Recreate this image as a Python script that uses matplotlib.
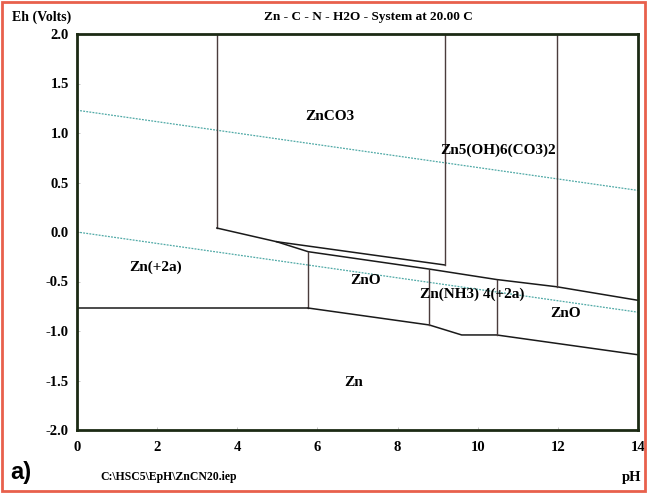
import matplotlib.pyplot as plt
from matplotlib.patches import Rectangle

# stability field boundaries (pH, Eh in volts)
water_upper_ph = [0, 14]
water_upper_eh = [1.23, 0.42]
water_lower_ph = [0, 14]
water_lower_eh = [0.0, -0.81]

znco3_left_ph = [3.49, 3.49, 4.98, 9.18]
znco3_left_eh = [2.0, 0.04, -0.098, -0.333]
wedge_ph = [4.98, 5.77, 8.8, 10.47, 11.97, 14]
wedge_eh = [-0.098, -0.199, -0.375, -0.48, -0.553, -0.69]
v92_ph = [9.18, 9.18]
v92_eh = [2.0, -0.333]
v12_ph = [11.97, 11.97]
v12_eh = [2.0, -0.553]

zn2_ph = [0, 5.77]
zn2_eh = [-0.768, -0.768]
zno_left_ph = [5.77, 5.77]
zno_left_eh = [-0.199, -0.768]
zn_top_ph = [5.77, 8.79, 9.6, 10.47, 14]
zn_top_eh = [-0.768, -0.939, -1.04, -1.04, -1.24]
v88_ph = [8.79, 8.79]
v88_eh = [-0.38, -0.939]
v105_ph = [10.47, 10.47]
v105_eh = [-0.48, -1.04]

species = ['ZnCO3', 'Zn5(OH)6(CO3)2', 'Zn(+2a)', 'ZnO', 'Zn(NH3) 4(+2a)', 'ZnO', 'Zn']
species_ph = [6.3, 10.5, 1.95, 7.2, 9.85, 12.2, 6.9]
species_eh = [1.17, 0.83, -0.36, -0.49, -0.63, -0.82, -1.52]

x_ticks = [0, 2, 4, 6, 8, 10, 12, 14]
y_ticks = [2.0, 1.5, 1.0, 0.5, 0.0, -0.5, -1.0, -1.5, -2.0]

serif = 'Liberation Serif'

fig = plt.figure(figsize=(6.48, 4.95), dpi=100)
ax = fig.add_axes([77 / 648, 65 / 495, 561 / 648, 396 / 495])

water_style = dict(color='#4fa9a6', lw=0.9, ls=(0, (1.5, 1)))
ax.plot(water_upper_ph, water_upper_eh, **water_style)
ax.plot(water_lower_ph, water_lower_eh, **water_style)

line_style = dict(color='#1a1a1a', lw=1.1)
vert_style = dict(color='#4a3c3c', lw=1.0)
ax.plot(znco3_left_ph[:2], znco3_left_eh[:2], **vert_style)
ax.plot(znco3_left_ph[1:], znco3_left_eh[1:], **line_style)
ax.plot(wedge_ph, wedge_eh, **line_style)
ax.plot(v92_ph, v92_eh, **vert_style)
ax.plot(v12_ph, v12_eh, **vert_style)
ax.plot(zn2_ph, zn2_eh, **line_style)
ax.plot(zno_left_ph, zno_left_eh, **vert_style)
ax.plot(zn_top_ph, zn_top_eh, **line_style)
ax.plot(v88_ph, v88_eh, **vert_style)
ax.plot(v105_ph, v105_eh, **vert_style)

for name, ph, eh in zip(species, species_ph, species_eh):
    ax.text(ph, eh, name, ha='center', va='center', fontsize=11,
            fontweight='bold', family=serif)

ax.set_xlim(0, 14)
ax.set_ylim(-2, 2)
ax.set_xticks(x_ticks)
ax.set_xticklabels([str(t) for t in x_ticks])
ax.set_yticks(y_ticks)
ax.set_yticklabels(['%.1f' % t for t in y_ticks])
for lab in ax.get_xticklabels() + ax.get_yticklabels():
    lab.set_family(serif)
    lab.set_fontweight('bold')
    lab.set_fontsize(10.5)
ax.tick_params(direction='in', length=2, width=0.6, color='#bbbbbb', pad=6)
ax.tick_params(axis='x', pad=8)
for sp in ax.spines.values():
    sp.set_linewidth(2.0)
    sp.set_color('#1c2a14')

fig.text(42 / 648, 1 - 17 / 495, 'Eh (Volts)', ha='center', va='center',
         fontsize=10, fontweight='bold', family=serif)
fig.text(368 / 648, 1 - 17 / 495, 'Zn - C - N - H2O - System at 20.00 C', ha='center',
         va='center', fontsize=9.5, fontweight='bold', family=serif)
fig.text(100 / 648, 1 - 477 / 495, 'C:\\HSC5\\EpH\\ZnCN20.iep', ha='left', va='center',
         fontsize=8.5, fontweight='bold', family=serif)
fig.text(641 / 648, 1 - 477 / 495, 'pH', ha='right', va='center',
         fontsize=10.5, fontweight='bold', family=serif)
fig.text(10 / 648, 1 - 472 / 495, 'a)', ha='left', va='center',
         fontsize=17, fontweight='bold', family='Liberation Sans')

fig.patches.append(Rectangle((2 / 648, 4 / 495), 643 / 648, 489 / 495,
                             transform=fig.transFigure, fill=False,
                             edgecolor='#e8604c', lw=2.0))

fig.savefig('out.png', dpi=100)
